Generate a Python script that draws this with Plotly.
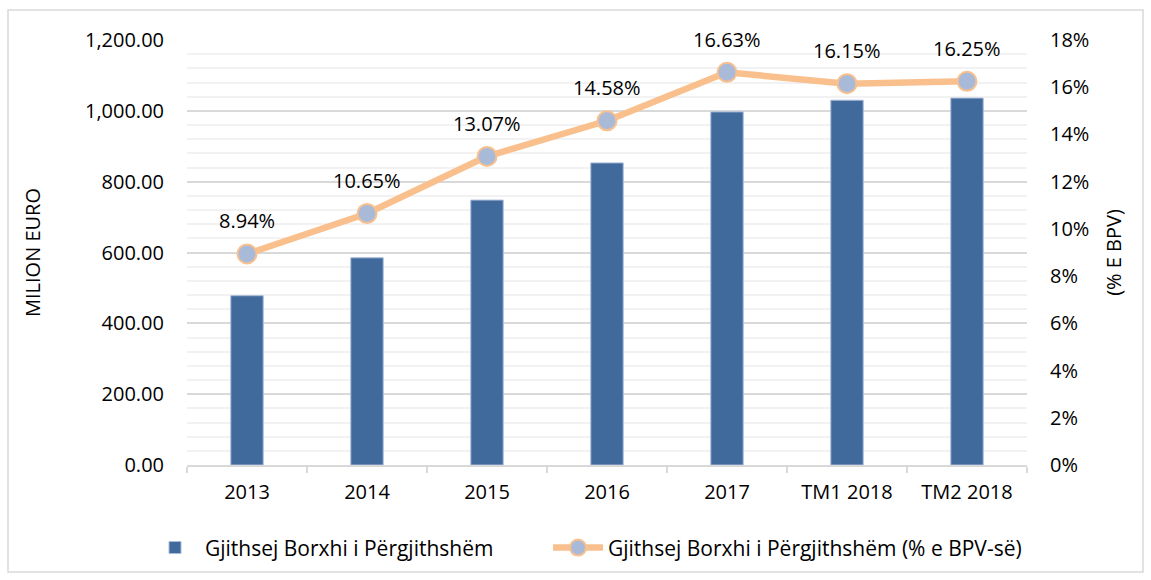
import plotly.graph_objects as go

categories = ["2013", "2014", "2015", "2016", "2017", "TM1 2018", "TM2 2018"]
debt_meur = [478, 585, 748, 853, 997, 1030, 1036]
debt_pct_gdp = [8.94, 10.65, 13.07, 14.58, 16.63, 16.15, 16.25]
pct_labels = ["8.94%", "10.65%", "13.07%", "14.58%", "16.63%", "16.15%", "16.25%"]

FONT = "Open Sans"
idx = list(range(len(categories)))
boundaries = [i - 0.5 for i in range(len(categories) + 1)]

fig = go.Figure()
fig.add_trace(go.Bar(
    x=idx, y=debt_meur, name="Gjithsej Borxhi i Përgjithshëm",
    marker=dict(color="#406A9C", line=dict(color="#A9BAD9", width=1)),
    width=0.27, yaxis="y", legend="legend",
))
fig.add_trace(go.Scatter(
    x=idx, y=debt_pct_gdp, name="Gjithsej Borxhi i Përgjithshëm (% e BPV-së)",
    mode="lines+markers", yaxis="y2", legend="legend2",
    line=dict(color="#F9C08E", width=6.5),
    marker=dict(size=19, color="#A9BAD9", line=dict(color="#F9C08E", width=2)),
))
for i, v, t in zip(idx, debt_pct_gdp, pct_labels):
    fig.add_annotation(x=i, y=v, xref="x", yref="y2", text=t, showarrow=False, yshift=33,
                       font=dict(family=FONT, size=20, color="#000"))

leg_common = dict(orientation="h", xanchor="left", y=-0.195, yanchor="middle",
                  font=dict(family=FONT, size=21), itemwidth=50, bgcolor="rgba(0,0,0,0)")

fig.update_layout(
    width=1151, height=580,
    margin=dict(l=187, r=124, t=40, b=115),
    paper_bgcolor="white", plot_bgcolor="white",
    font=dict(family=FONT, size=20, color="#000"),
    showlegend=True,
    legend=dict(x=(145 - 187) / 840, **leg_common),
    legend2=dict(x=(548 - 187) / 840, **leg_common),
    xaxis=dict(range=[-0.5, len(categories) - 0.5], tickvals=idx, ticktext=categories,
               ticks="", showline=True, linecolor="#D9D9D9", linewidth=1.5,
               minor=dict(tickvals=boundaries, ticks="outside", ticklen=6,
                          tickcolor="#D9D9D9", tickwidth=1.5, showgrid=False),
               ticklabelstandoff=8,
               tickfont=dict(size=20), showgrid=False, zeroline=False, tickangle=0),
    yaxis=dict(range=[0, 1200], dtick=200, tickformat=",.2f", showgrid=True,
               gridcolor="#D9D9D9", gridwidth=1.5, zeroline=False,
               minor=dict(dtick=40, showgrid=True, gridcolor="#F2F2F2", gridwidth=1.5),
               ticklabelstandoff=22, tickfont=dict(size=20),
               title=dict(text="MILION EURO", font=dict(size=20), standoff=38)),
    yaxis2=dict(range=[0, 18], tickvals=list(range(0, 19, 2)),
                ticktext=[f"{v}%" for v in range(0, 19, 2)],
                overlaying="y", side="right", showgrid=False, zeroline=False,
                ticklabelstandoff=22, tickfont=dict(size=20),
                title=dict(text="(% E BPV)", font=dict(size=20), standoff=18)),
    shapes=[dict(type="rect", xref="paper", yref="paper",
                 x0=(8 - 187) / 840, x1=(1143 - 187) / 840,
                 y0=(465 - 572) / 425, y1=(465 - 10) / 425,
                 line=dict(color="#D9D9D9", width=1.5), fillcolor="rgba(0,0,0,0)",
                 layer="below")],
)

fig.write_html("out.html")
